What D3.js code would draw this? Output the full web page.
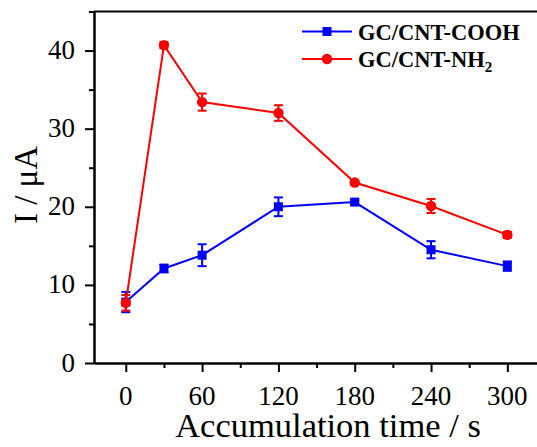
<!DOCTYPE html>
<html>
<head>
<meta charset="utf-8">
<script src="https://cdn.jsdelivr.net/npm/d3@7"></script>
<style>
  body { margin: 0; background: #fff; }
  text { font-family: "Liberation Serif", "Times New Roman", serif; }
</style>
</head>
<body>
<script>
// data
var times = [0, 30, 60, 120, 180, 240, 300];
var cooh = [7.8, 12.1, 13.8, 20.0, 20.6, 14.5, 12.4];
var coohErr = [1.3, 0.5, 1.4, 1.2, 0.3, 1.1, 0.6];
var nh2 = [7.7, 40.7, 33.4, 32.0, 23.1, 20.1, 16.4];
var nh2Err = [1.0, 0.4, 1.1, 1.0, 0.3, 0.9, 0.4];
var xMajor = [0, 60, 120, 180, 240, 300],
    xMinor = [30, 90, 150, 210, 270];
var yMajor = [0, 10, 20, 30, 40],
    yMinor = [5, 15, 25, 35, 45];

var width = 537, height = 447;

var x_scale = d3.scaleLinear().domain([-25, 330]).range([94, 545.5]),
    y_scale = d3.scaleLinear().domain([0, 45]).range([363, 11.5]);

var svg = d3.select("body").append("svg")
    .attr("width", width)
    .attr("height", height);

var series = [
  {name: "GC/CNT-COOH", color: "#0000ff", vals: cooh, err: coohErr, shape: "square"},
  {name: "GC/CNT-NH", sub: "2", color: "#ff0000", vals: nh2, err: nh2Err, shape: "circle"}
];

// axes
function styleAxis(g) {
  g.select(".domain").attr("stroke", "#000").attr("stroke-width", 2);
  g.selectAll(".tick line").attr("stroke", "#000").attr("stroke-width", 2);
  g.selectAll(".tick text").remove();
}

svg.append("g")
    .attr("transform", "translate(0,363)")
    .call(d3.axisBottom(x_scale).tickValues(xMajor).tickSize(9).tickSizeOuter(0))
    .call(styleAxis);
svg.append("g")
    .attr("transform", "translate(0,363)")
    .call(d3.axisBottom(x_scale).tickValues(xMinor).tickSize(5).tickSizeOuter(0))
    .call(styleAxis);
svg.append("g")
    .attr("transform", "translate(94,0)")
    .call(d3.axisLeft(y_scale).tickValues(yMajor).tickSize(9).tickSizeOuter(0))
    .call(styleAxis);
svg.append("g")
    .attr("transform", "translate(94,0)")
    .call(d3.axisLeft(y_scale).tickValues(yMinor).tickSize(5).tickSizeOuter(0))
    .call(styleAxis);

// top spine
svg.append("line")
    .attr("x1", x_scale.range()[0]).attr("x2", x_scale.range()[1])
    .attr("y1", y_scale(45)).attr("y2", y_scale(45))
    .attr("stroke", "#000").attr("stroke-width", 2);

// tick labels
svg.selectAll(".xlab")
    .data(xMajor)
  .enter().append("text")
    .attr("x", function(d) { return x_scale(d); })
    .attr("y", 405)
    .attr("text-anchor", "middle")
    .style("font-size", "27px")
    .text(function(d) { return d; });

svg.selectAll(".ylab")
    .data(yMajor)
  .enter().append("text")
    .attr("x", 75)
    .attr("y", function(d) { return y_scale(d) + 8.5; })
    .attr("text-anchor", "end")
    .style("font-size", "27px")
    .text(function(d) { return d; });

// axis titles
svg.append("text")
    .attr("x", 328)
    .attr("y", 437)
    .attr("text-anchor", "middle")
    .style("font-size", "34.5px")
    .text("Accumulation time / s");

svg.append("text")
    .attr("transform", "translate(37,185) rotate(-90)")
    .attr("text-anchor", "middle")
    .style("font-size", "33px")
    .text("I / μA");

// lines, error bars, markers
var line = d3.line()
    .x(function(d, i) { return x_scale(times[i]); })
    .y(function(d) { return y_scale(d); });

series.forEach(function(s) {
  var g = svg.append("g");

  g.append("path")
      .datum(s.vals)
      .attr("fill", "none")
      .attr("stroke", s.color)
      .attr("stroke-width", 2)
      .attr("d", line);

  var eb = g.selectAll(".eb")
      .data(s.vals)
    .enter().append("g");
  eb.append("line")
      .attr("x1", function(d, i) { return x_scale(times[i]); })
      .attr("x2", function(d, i) { return x_scale(times[i]); })
      .attr("y1", function(d, i) { return y_scale(d - s.err[i]); })
      .attr("y2", function(d, i) { return y_scale(d + s.err[i]); })
      .attr("stroke", s.color).attr("stroke-width", 2);
  [-1, 1].forEach(function(sign) {
    eb.append("line")
        .attr("x1", function(d, i) { return x_scale(times[i]) - 4.5; })
        .attr("x2", function(d, i) { return x_scale(times[i]) + 4.5; })
        .attr("y1", function(d, i) { return y_scale(d + sign * s.err[i]); })
        .attr("y2", function(d, i) { return y_scale(d + sign * s.err[i]); })
        .attr("stroke", s.color).attr("stroke-width", 2);
  });

  if (s.shape == "square") {
    g.selectAll(".dot")
        .data(s.vals)
      .enter().append("rect")
        .attr("x", function(d, i) { return x_scale(times[i]) - 4.5; })
        .attr("y", function(d) { return y_scale(d) - 4.5; })
        .attr("width", 9).attr("height", 9)
        .attr("fill", s.color);
  } else {
    g.selectAll(".dot")
        .data(s.vals)
      .enter().append("circle")
        .attr("cx", function(d, i) { return x_scale(times[i]); })
        .attr("cy", function(d) { return y_scale(d); })
        .attr("r", 5.2)
        .attr("fill", s.color);
  }
});

// legend
var legend = svg.selectAll(".legend")
    .data(series)
  .enter().append("g")
    .attr("transform", function(d, i) { return "translate(0," + (31.5 + i * 27.5) + ")"; });

legend.append("line")
    .attr("x1", 302).attr("x2", 352)
    .attr("stroke", function(d) { return d.color; })
    .attr("stroke-width", 2);
legend.each(function(d) {
  var g = d3.select(this);
  if (d.shape == "square") {
    g.append("rect").attr("x", 322.5).attr("y", -4.5).attr("width", 9).attr("height", 9).attr("fill", d.color);
  } else {
    g.append("circle").attr("cx", 327).attr("cy", 0).attr("r", 5.2).attr("fill", d.color);
  }
  var t = g.append("text")
      .attr("x", 358)
      .attr("y", 8)
      .style("font-size", "22.5px")
      .style("font-weight", "bold")
      .text(d.name);
  if (d.sub) {
    t.append("tspan").attr("dy", 5).style("font-size", "15px").text(d.sub);
  }
});
</script>
</body>
</html>
